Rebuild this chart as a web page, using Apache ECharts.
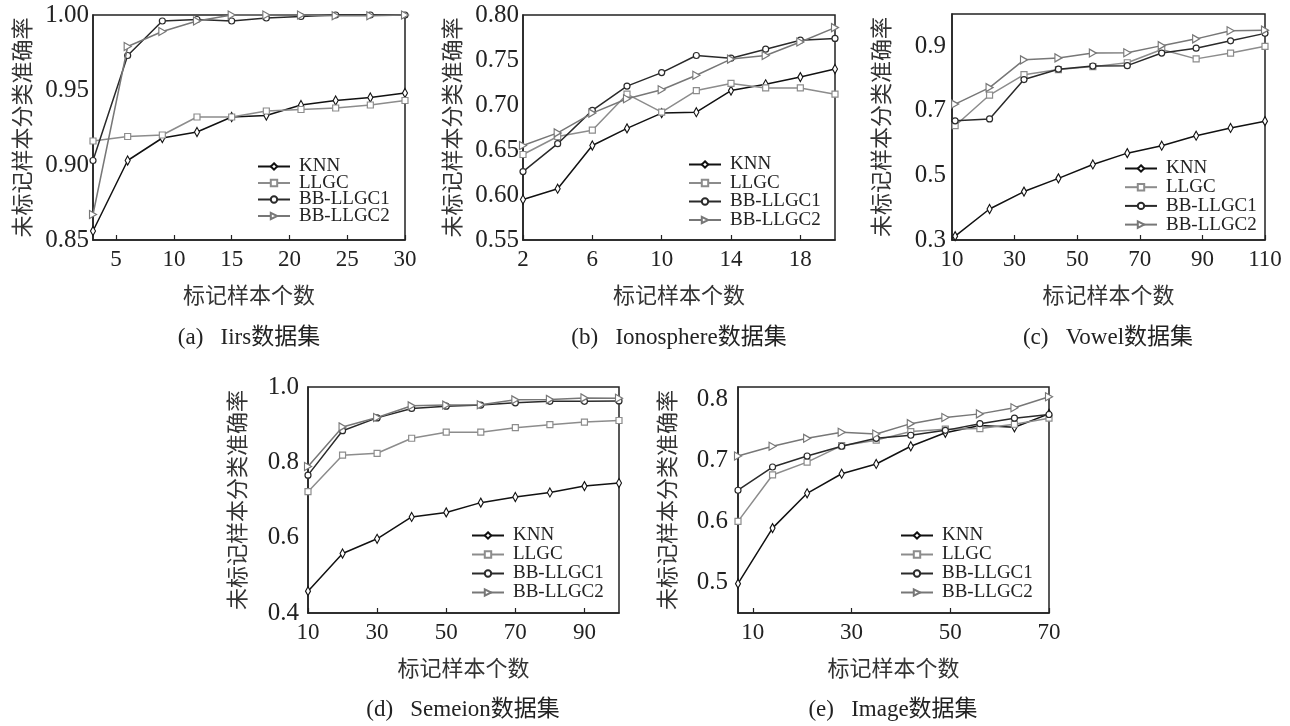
<!DOCTYPE html>
<html>
<head>
<meta charset="utf-8">
<script src="https://cdn.jsdelivr.net/npm/echarts@6/dist/echarts.min.js"></script>
<style>html,body{margin:0;padding:0;background:#fff}#c{width:1290px;height:726px}</style>
</head>
<body>
<div id="c"></div>
<script>
// ---------- DATA ----------
const seriesNames = ['KNN', 'LLGC', 'BB-LLGC1', 'BB-LLGC2'];
const yName = '未标记样本分类准确率';
const xName = '标记样本个数';
const captions = ['(a)   Iirs数据集', '(b)   Ionosphere数据集', '(c)   Vowel数据集', '(d)   Semeion数据集', '(e)   Image数据集'];

// (a) Iris
const xA = [3, 6, 9, 12, 15, 18, 21, 24, 27, 30];
const knnA = [0.856, 0.903, 0.918, 0.922, 0.932, 0.933, 0.940, 0.943, 0.945, 0.948];
const llgcA = [0.916, 0.919, 0.920, 0.932, 0.932, 0.936, 0.937, 0.938, 0.940, 0.943];
const bb1A = [0.903, 0.973, 0.996, 0.997, 0.996, 0.998, 0.999, 1.000, 1.000, 1.000];
const bb2A = [0.867, 0.979, 0.989, 0.996, 1.000, 1.000, 1.000, 0.9995, 0.9995, 1.000];
const xTicksA = [5, 10, 15, 20, 25, 30];
const yTicksA = [0.85, 0.90, 0.95, 1.00];

// (b) Ionosphere
const xB = [2, 4, 6, 8, 10, 12, 14, 16, 18, 20];
const knnB = [0.595, 0.607, 0.655, 0.674, 0.691, 0.692, 0.716, 0.723, 0.731, 0.740];
const llgcB = [0.645, 0.665, 0.672, 0.712, 0.692, 0.716, 0.724, 0.719, 0.719, 0.712];
const bb1B = [0.626, 0.657, 0.694, 0.721, 0.736, 0.755, 0.752, 0.762, 0.772, 0.774];
const bb2B = [0.655, 0.669, 0.691, 0.707, 0.717, 0.733, 0.751, 0.755, 0.770, 0.786];
const xTicksB = [2, 6, 10, 14, 18];
const yTicksB = [0.55, 0.60, 0.65, 0.70, 0.75, 0.80];

// (c) Vowel
const xC = [11, 22, 33, 44, 55, 66, 77, 88, 99, 110];
const knnC = [0.312, 0.396, 0.450, 0.491, 0.534, 0.569, 0.592, 0.623, 0.647, 0.668];
const llgcC = [0.654, 0.749, 0.812, 0.828, 0.837, 0.849, 0.890, 0.861, 0.879, 0.900];
const bb1C = [0.669, 0.675, 0.797, 0.829, 0.839, 0.840, 0.879, 0.894, 0.917, 0.940];
const bb2C = [0.721, 0.772, 0.858, 0.864, 0.879, 0.880, 0.902, 0.923, 0.948, 0.950];
const xTicksC = [10, 30, 50, 70, 90, 110];
const yTicksC = [0.3, 0.5, 0.7, 0.9];

// (d) Semeion
const xD = [10, 20, 30, 40, 50, 60, 70, 80, 90, 100];
const knnD = [0.458, 0.558, 0.597, 0.655, 0.667, 0.693, 0.708, 0.720, 0.737, 0.745];
const llgcD = [0.722, 0.819, 0.824, 0.864, 0.880, 0.880, 0.892, 0.900, 0.907, 0.911];
const bb1D = [0.766, 0.884, 0.918, 0.943, 0.949, 0.952, 0.958, 0.962, 0.962, 0.963];
const bb2D = [0.789, 0.894, 0.919, 0.950, 0.952, 0.953, 0.966, 0.967, 0.971, 0.970];
const xTicksD = [10, 30, 50, 70, 90];
const yTicksD = [0.4, 0.6, 0.8, 1.0];

// (e) Image
const xE = [7, 14, 21, 28, 35, 42, 49, 56, 63, 70];
const knnE = [0.498, 0.589, 0.646, 0.678, 0.694, 0.723, 0.745, 0.757, 0.754, 0.776];
const llgcE = [0.600, 0.676, 0.697, 0.724, 0.733, 0.747, 0.751, 0.752, 0.759, 0.769];
const bb1E = [0.651, 0.689, 0.707, 0.723, 0.736, 0.741, 0.749, 0.760, 0.769, 0.775];
const bb2E = [0.707, 0.723, 0.736, 0.746, 0.743, 0.760, 0.770, 0.776, 0.786, 0.804];
const xTicksE = [10, 30, 50, 70];
const yTicksE = [0.5, 0.6, 0.7, 0.8];

// ---------- LAYOUT / STYLE ----------
const panels = [
  {x: xA, ys: [knnA, llgcA, bb1A, bb2A], xt: xTicksA, yt: yTicksA, dec: 2, xmin: 3, xmax: 30, ymin: 0.85, ymax: 1.0,
   grid: {left: 93, top: 15, width: 312, height: 225}, lg: {left: 257, top: 157, gap: -2.5}, ym: 4},
  {x: xB, ys: [knnB, llgcB, bb1B, bb2B], xt: xTicksB, yt: yTicksB, dec: 2, xmin: 2, xmax: 20, ymin: 0.55, ymax: 0.80,
   grid: {left: 523, top: 15, width: 312, height: 225}, lg: {left: 688, top: 155, gap: -0.5}, ym: 4},
  {x: xC, ys: [knnC, llgcC, bb1C, bb2C], xt: xTicksC, yt: yTicksC, dec: 1, xmin: 10, xmax: 110, ymin: 0.3, ymax: 1.0,
   grid: {left: 952, top: 14, width: 313, height: 226}, lg: {left: 1124, top: 159, gap: -0.3}, ym: 6},
  {x: xD, ys: [knnD, llgcD, bb1D, bb2D], xt: xTicksD, yt: yTicksD, dec: 1, xmin: 10, xmax: 100, ymin: 0.4, ymax: 1.0,
   grid: {left: 308, top: 387, width: 311, height: 226}, lg: {left: 471, top: 526, gap: 0}, ym: 9},
  {x: xE, ys: [knnE, llgcE, bb1E, bb2E], xt: xTicksE, yt: yTicksE, dec: 1, xmin: 7, xmax: 70, ymin: 0.45, ymax: 0.82,
   grid: {left: 738, top: 387, width: 311, height: 226}, lg: {left: 900, top: 526, gap: 0}, ym: 10}
];
const captionPos = [[249, 338], [679, 338], [1108, 338], [463, 710], [893, 710]];

const lineColors = ['#111111', '#8c8c8c', '#2a2a2a', '#777777'];
const symbols = [
  'path://M4,0 L7.5,8 L4,16 L0.5,8 Z',
  'rect',
  'circle',
  'path://M0,0 L10,5 L0,10 Z'
];
const symSizes = [[5, 9], 6, 6, [7, 8]];

const serif = 'Liberation Serif, Times New Roman, serif';
const cjk = 'Noto Sans CJK SC, sans-serif';

const grids = [], xAxes = [], yAxes = [], series = [], legends = [];
panels.forEach((p, i) => {
  grids.push(Object.assign({show: true, borderColor: '#222', borderWidth: 1.5, backgroundColor: 'transparent'}, p.grid));
  xAxes.push({
    type: 'value', gridIndex: i, min: p.xmin, max: p.xmax,
    name: xName, nameLocation: 'middle', nameGap: 44,
    nameTextStyle: {fontFamily: cjk, fontSize: 22, color: '#333'},
    axisLine: {show: true, lineStyle: {color: '#222', width: 1.5}},
    axisTick: {show: true, inside: true, length: 5, customValues: p.xt, lineStyle: {color: '#222', width: 1.2}},
    axisLabel: {customValues: p.xt, fontFamily: serif, fontSize: 23, color: '#222', margin: 8},
    splitLine: {show: false}
  });
  yAxes.push({
    type: 'value', gridIndex: i, min: p.ymin, max: p.ymax,
    name: yName, nameLocation: 'middle', nameGap: 60, nameRotate: 90,
    nameTextStyle: {fontFamily: cjk, fontSize: 22, color: '#333'},
    axisLine: {show: true, lineStyle: {color: '#222', width: 1.5}},
    axisTick: {show: false},
    axisLabel: {customValues: p.yt, fontFamily: serif, fontSize: 25, color: '#222', margin: p.ym,
      formatter: v => Number(v).toFixed(p.dec)},
    splitLine: {show: false}
  });
  seriesNames.forEach((nm, k) => {
    series.push({
      type: 'line', name: nm, xAxisIndex: i, yAxisIndex: i,
      data: p.x.map((xv, j) => [xv, p.ys[k][j]]),
      symbol: symbols[k], symbolSize: symSizes[k], showAllSymbol: true,
      lineStyle: {color: lineColors[k], width: 1.5},
      itemStyle: {color: '#ffffff', borderColor: lineColors[k], borderWidth: 1.2},
      emphasis: {disabled: true}, animation: false, clip: false, z: 2 + k
    });
  });
  legends.push({
    orient: 'vertical', left: p.lg.left, top: p.lg.top, itemGap: p.lg.gap,
    itemWidth: 32, itemHeight: 8, padding: 0,
    data: seriesNames, selectedMode: false,
    textStyle: {fontFamily: serif, fontSize: 19, color: '#222', lineHeight: 17, padding: [0, 0, 0, 4]}
  });
});

const graphics = captions.map((t, i) => ({
  type: 'text', x: captionPos[i][0], y: captionPos[i][1],
  style: {text: t, x: 0, y: 0, align: 'center', verticalAlign: 'middle',
    font: '23px Liberation Serif, Noto Sans CJK SC', fill: '#222'}
}));

const chart = echarts.init(document.getElementById('c'), null, {renderer: 'canvas'});
chart.setOption({
  backgroundColor: '#ffffff',
  animation: false,
  grid: grids, xAxis: xAxes, yAxis: yAxes, series: series, legend: legends,
  graphic: graphics
});
</script>
</body>
</html>
